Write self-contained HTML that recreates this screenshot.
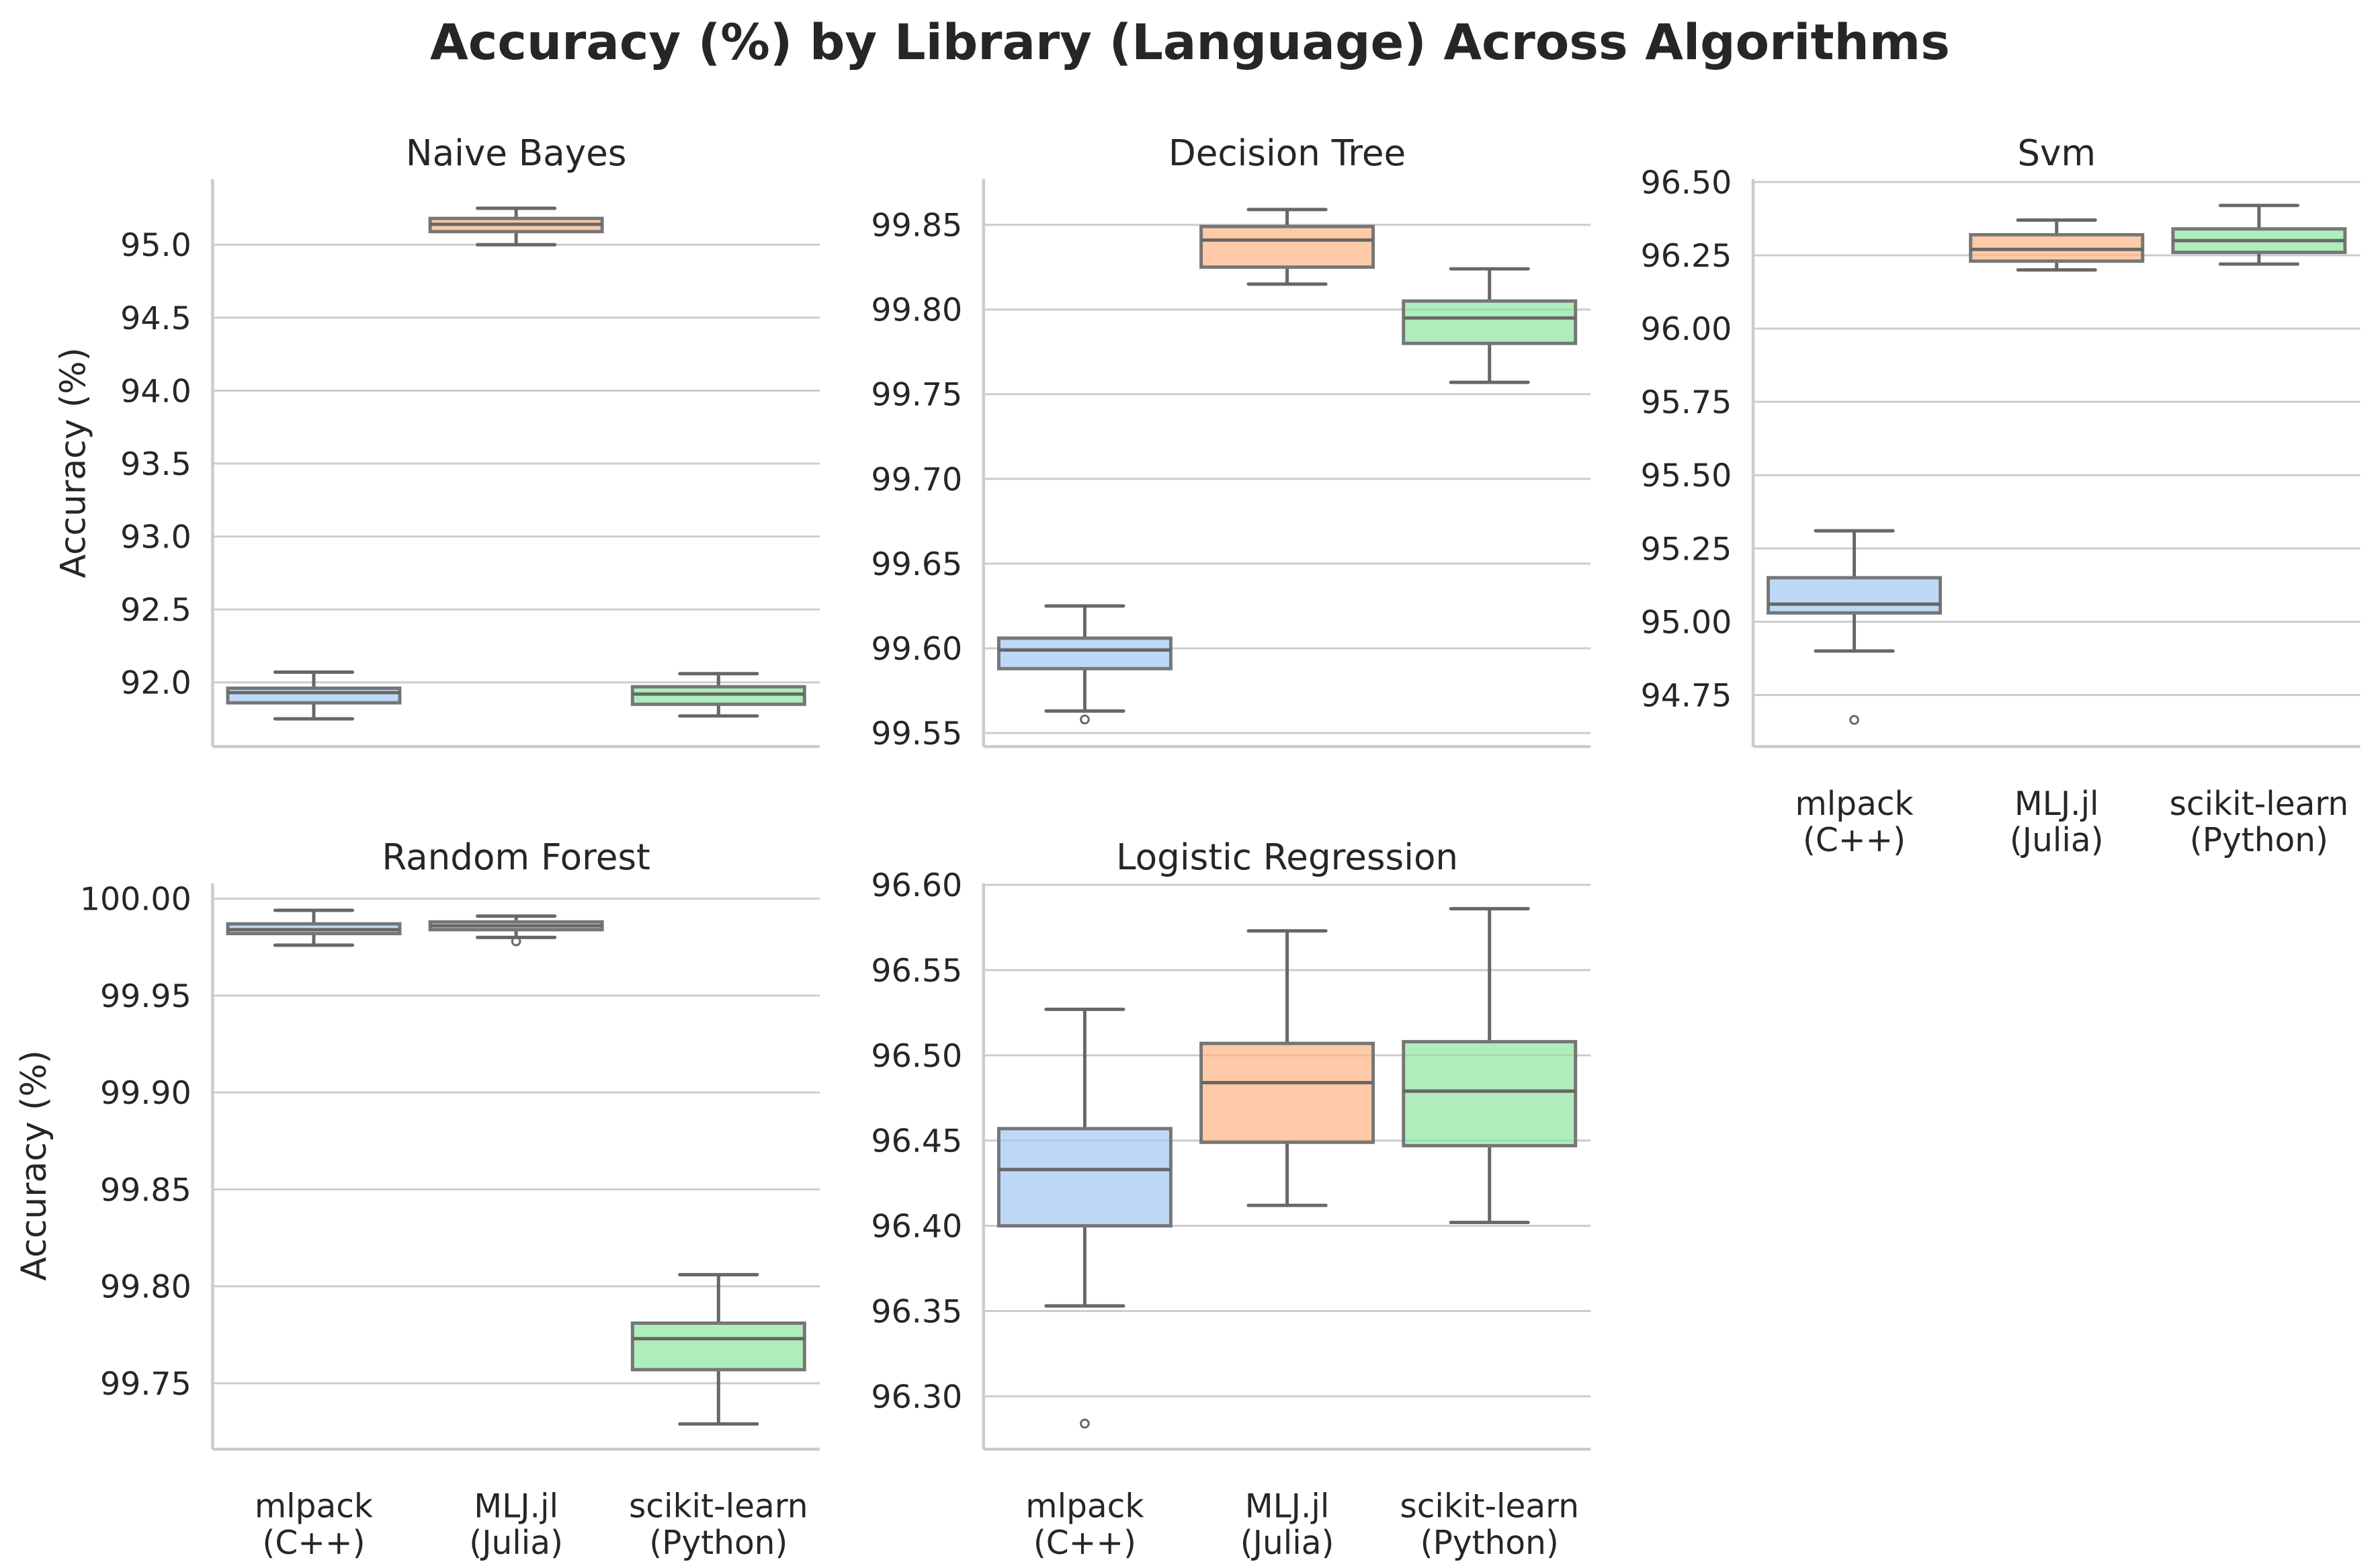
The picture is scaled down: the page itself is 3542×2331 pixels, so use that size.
<!DOCTYPE html>
<html><head><meta charset="utf-8"><style>
html,body{margin:0;padding:0;background:#fff;}
svg{display:block;font-family:"DejaVu Sans","Liberation Sans",sans-serif;}
</style></head><body>
<svg id="chart" width="3542" height="2331" viewBox="0 0 1568 1032" xmlns="http://www.w3.org/2000/svg">
<rect width="1568" height="1032" fill="#fff"/>
<text x="784" y="39" text-anchor="middle" font-size="32.5" font-weight="bold" fill="#262626">Accuracy (%) by Library (Language) Across Algorithms</text>
</svg>
<script>
const categories = ["mlpack|(C++)", "MLJ.jl|(Julia)", "scikit-learn|(Python)"];
const panelTitles = ["Naive Bayes", "Decision Tree", "Svm", "Random Forest", "Logistic Regression"];
// per panel per category: [whiskerLow, q1, median, q3, whiskerHigh]
const nbStats = [[91.75,91.86,91.93,91.96,92.07],[95.00,95.09,95.14,95.18,95.25],[91.77,91.85,91.92,91.97,92.06]];
const dtStats = [[99.563,99.588,99.599,99.606,99.625],[99.815,99.825,99.841,99.849,99.859],[99.757,99.780,99.795,99.805,99.824]];
const svmStats = [[94.90,95.03,95.06,95.15,95.31],[96.20,96.23,96.27,96.32,96.37],[96.22,96.26,96.30,96.34,96.42]];
const rfStats = [[99.976,99.982,99.984,99.987,99.994],[99.980,99.984,99.986,99.988,99.991],[99.729,99.757,99.773,99.781,99.806]];
const lrStats = [[96.353,96.400,96.433,96.457,96.527],[96.412,96.449,96.484,96.507,96.573],[96.402,96.447,96.479,96.508,96.586]];
const nbOutliers = [[],[],[]];
const dtOutliers = [[99.558],[],[]];
const svmOutliers = [[94.665],[],[]];
const rfOutliers = [[],[99.978],[]];
const lrOutliers = [[96.284],[],[]];
const nbTicks = ["92.0","92.5","93.0","93.5","94.0","94.5","95.0"];
const dtTicks = ["99.55","99.60","99.65","99.70","99.75","99.80","99.85"];
const svmTicks = ["94.75","95.00","95.25","95.50","95.75","96.00","96.25","96.50"];
const rfTicks = ["99.75","99.80","99.85","99.90","99.95","100.00"];
const lrTicks = ["96.30","96.35","96.40","96.45","96.50","96.55","96.60"];
const nbDomain = [91.56, 95.45];
const dtDomain = [99.542, 99.877];
const svmDomain = [94.574, 96.51];
const rfDomain = [99.716, 100.008];
const lrDomain = [96.269, 96.601];

const colors = ["#a1c9f4","#ffb482","#8de5a1"];
const NS = "http://www.w3.org/2000/svg";
const svg = document.getElementById('chart');
function mk(tag, attrs, parent){const e=document.createElementNS(NS,tag);for(const k in attrs)e.setAttribute(k,attrs[k]);(parent||svg).appendChild(e);return e;}

const panels = [
 {x0:140,y0:118,x1:540,y1:492,stats:nbStats,out:nbOutliers,ticks:nbTicks,dom:nbDomain,ylab:[56,305],xlab:false},
 {x0:648,y0:118,x1:1048,y1:492,stats:dtStats,out:dtOutliers,ticks:dtTicks,dom:dtDomain,ylab:null,xlab:false},
 {x0:1155,y0:118,x1:1555,y1:492,stats:svmStats,out:svmOutliers,ticks:svmTicks,dom:svmDomain,ylab:null,xlab:true},
 {x0:140,y0:582,x1:540,y1:955,stats:rfStats,out:rfOutliers,ticks:rfTicks,dom:rfDomain,ylab:[30,768],xlab:true},
 {x0:648,y0:582,x1:1048,y1:955,stats:lrStats,out:lrOutliers,ticks:lrTicks,dom:lrDomain,ylab:null,xlab:true}
];

panels.forEach((p,pi)=>{
  const g = mk('g',{});
  
  
  const y = v => p.y1 - (v - p.dom[0])/(p.dom[1]-p.dom[0])*(p.y1-p.y0);
  const bw = (p.x1-p.x0)/3;
  const xc = i => p.x0 + bw*(i+0.5);
  p.ticks.forEach(t=>{
    const yy=y(parseFloat(t));
    const gl=mk('line',{x1:p.x0,x2:p.x1,y1:yy,y2:yy,stroke:'#cccccc','stroke-width':1.3},g);
    
    
    const tl=mk('text',{x:p.x0-14,y:yy+7.5,'text-anchor':'end','font-size':21,fill:'#262626'},g);
    tl.textContent=t;
    
    
  });
  const sl=mk('line',{x1:p.x0,x2:p.x0,y1:p.y0,y2:p.y1,stroke:'#cccccc','stroke-width':2},g);
  
  
  const sb=mk('line',{x1:p.x0,x2:p.x1,y1:p.y1,y2:p.y1,stroke:'#cccccc','stroke-width':2},g);
  
  
  const tt=mk('text',{x:(p.x0+p.x1)/2,y:p.y0-9,'text-anchor':'middle','font-size':23.5,fill:'#262626'},g);
  tt.textContent=panelTitles[pi];
  
  
  p.stats.forEach((s,i)=>{
    const c=xc(i), w=bw*0.85, cap=w*0.45;
    const bg=mk('g',{},g);
    
    
    const st={stroke:'#676767','stroke-width':2.2,'stroke-linecap':'round'};
    mk('line',Object.assign({x1:c,x2:c,y1:y(s[0]),y2:y(s[1])},st),bg);
    mk('line',Object.assign({x1:c,x2:c,y1:y(s[3]),y2:y(s[4])},st),bg);
    mk('line',Object.assign({x1:c-cap/2,x2:c+cap/2,y1:y(s[0]),y2:y(s[0])},st),bg);
    mk('line',Object.assign({x1:c-cap/2,x2:c+cap/2,y1:y(s[4]),y2:y(s[4])},st),bg);
    mk('rect',{x:c-w/2,y:y(s[3]),width:w,height:Math.max(0.5,y(s[1])-y(s[3])),fill:colors[i],'fill-opacity':0.7,stroke:'#767676','stroke-width':2.2},bg);
    mk('line',{x1:c-w/2,x2:c+w/2,y1:y(s[2]),y2:y(s[2]),stroke:'#676767','stroke-width':2.2},bg);
    p.out[i].forEach(o=>{
      const oc=mk('circle',{cx:c,cy:y(o),r:2.6,fill:'none',stroke:'#676767','stroke-width':1.3},bg);
      
      
    });
    if(p.xlab){
      const parts=categories[i].split('|');
      const xl=mk('text',{x:c,y:p.y1+45,'text-anchor':'middle','font-size':21.5,fill:'#262626'},g);
      
      
      const t1=mk('tspan',{x:c,dy:0},xl); t1.textContent=parts[0];
      const t2=mk('tspan',{x:c,dy:24},xl); t2.textContent=parts[1];
    }
  });
  if(p.ylab){
    const yl=mk('text',{x:p.ylab[0],y:p.ylab[1],'text-anchor':'middle','font-size':23,fill:'#262626',transform:`rotate(-90 ${p.ylab[0]} ${p.ylab[1]})`},g);
    yl.textContent='Accuracy (%)';
    
    
  }
});
</script>
</body></html>
